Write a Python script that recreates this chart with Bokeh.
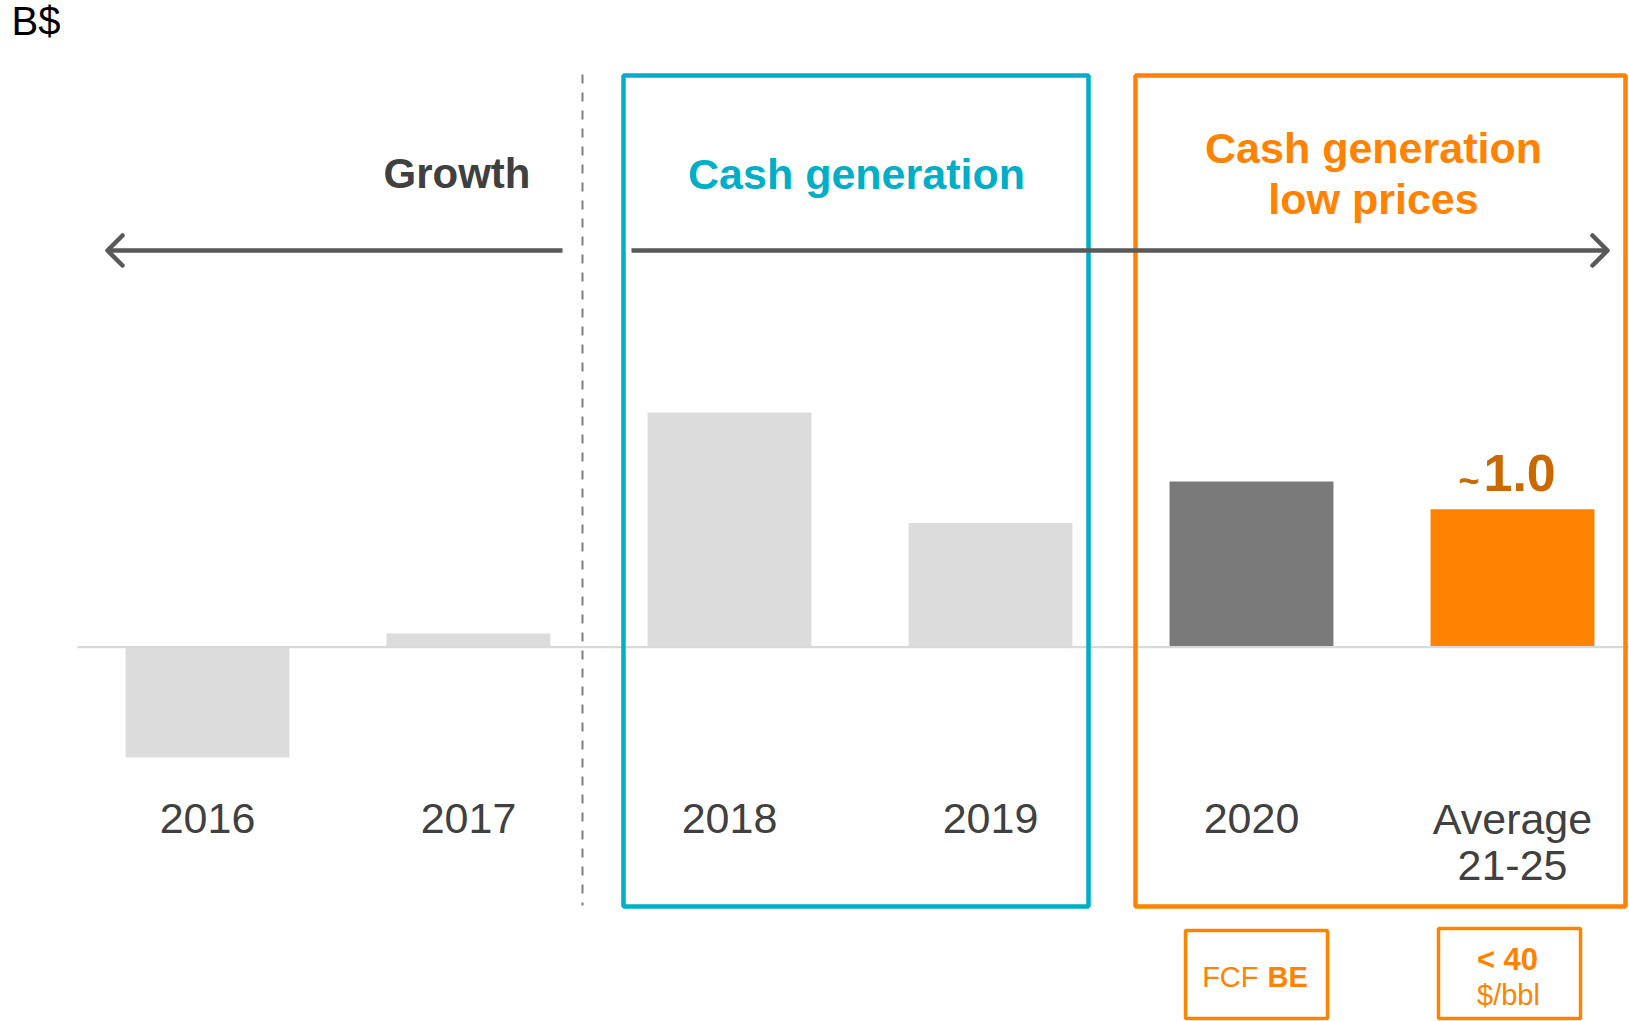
from bokeh.plotting import figure
from bokeh.models import Range1d
from bokeh.embed import file_html
from bokeh.resources import INLINE
from bokeh.core.properties import value

# ---------------- data ----------------
unit_label = "B$"
categories = ["2016", "2017", "2018", "2019", "2020", "Average\n21-25"]
values = [-0.8, 0.1, 1.7, 0.9, 1.2, 1.0]
value_label = "1.0"
value_prefix = "~"
phase_growth = "Growth"
phase_cash = "Cash generation"
phase_low = ["Cash generation", "low prices"]
note_fcf = ["FCF", "BE"]
note_price = ["< 40", "$/bbl"]

# ---------------- styles ----------------
LIGHT = "#DCDCDC"
DARK = "#7A7A7A"
ORANGE = "#FF8300"
DORANGE = "#C96A00"
TEAL = "#00AFC6"
TXT = "#404040"
ARROW = "#595959"
FONT = value("Liberation Sans")
bar_colors = [LIGHT, LIGHT, LIGHT, LIGHT, DARK, ORANGE]

W, H = 1629, 1021
OFF = 0                    # page offset of the figure
PX, PY = 261.0, 138.0      # pixels per category step / per B$
X0, Y0 = 207.0, 646.7      # page position of first category / of zero
BSHIFT = 0.37              # baseline correction (em)


def X(px):
    return (px - X0) / PX


def Y(py):
    return (Y0 - py) / PY


def YT(py, fs):
    """y of a text whose visual baseline should sit at page row py"""
    return Y(py - BSHIFT * fs)


p = figure(width=W, height=H, output_backend="svg", toolbar_location=None,
           x_range=Range1d(X(OFF), X(OFF + W)), y_range=Range1d(Y(OFF + H), Y(OFF)),
           x_axis_location=None, y_axis_location=None, min_border=0)
p.grid.visible = False
p.outline_line_color = None
p.background_fill_color = "white"
p.border_fill_color = "white"

idx = list(range(len(categories)))

# bars
p.vbar(x=idx, top=values, bottom=0, width=0.628, fill_color=bar_colors, line_color=None)
# zero line
p.line([X(77), X(1640)], [0, 0], line_color="#D9D9D9", line_width=2.3)


def txt(x, py, s, fs, color, align="center", bold=False):
    p.text(x=x, y=[YT(py, fs)] * len(x), text=s, text_font=FONT, text_font_size=f"{fs}px",
           text_font_style="bold" if bold else "normal", text_color=color,
           text_align=align, text_baseline="alphabetic")


# category labels (two lines max)
line1 = [c.split("\n")[0] for c in categories]
sec = [(i, c.split("\n")[1]) for i, c in zip(idx, categories) if "\n" in c]
txt(idx, 834, line1, 43, TXT)
txt([s[0] for s in sec], 880.7, [s[1] for s in sec], 43, TXT)

# value label on last bar
txt([X(1479)], 493, [value_prefix], 36, DORANGE, align="right", bold=True)
txt([X(1483)], 492, [value_label], 52, DORANGE, align="left", bold=True)

# dashed separator
p.line([X(582), X(582)], [Y(74), Y(905)], line_color="#7F7F7F", line_width=2, line_dash="9 9")

# phase boxes
p.quad(left=[X(623)], right=[X(1088)], top=[Y(75)], bottom=[Y(906)], fill_alpha=0,
       line_color=TEAL, line_width=4.5)
p.quad(left=[X(1135)], right=[X(1625)], top=[Y(75)], bottom=[Y(906)], fill_alpha=0,
       line_color=ORANGE, line_width=4.5)

# small note boxes
p.quad(left=[X(1185), X(1438)], right=[X(1327), X(1580)], top=[Y(930), Y(928)],
       bottom=[Y(1018), Y(1018)], fill_alpha=0, line_color=ORANGE, line_width=3.5)

# arrows
p.line([X(107), X(562)], [Y(250), Y(250)], line_color=ARROW, line_width=4.5)
p.line([X(631), X(1606)], [Y(250), Y(250)], line_color=ARROW, line_width=4.5)
p.multi_line(xs=[[X(122), X(107), X(122)], [X(1592), X(1607), X(1592)]],
             ys=[[Y(235), Y(250), Y(265)], [Y(235), Y(250), Y(265)]],
             line_color=ARROW, line_width=4.5, line_cap="round", line_join="round")

# texts
txt([X(11)], 35, [unit_label], 40, "black", align="left")
txt([X(530)], 188.5, [phase_growth], 42, TXT, align="right", bold=True)
txt([X(856)], 189, [phase_cash], 43, TEAL, bold=True)
txt([X(1373)], 163.5, [phase_low[0]], 43, ORANGE, bold=True)
txt([X(1373)], 214.5, [phase_low[1]], 43, ORANGE, bold=True)

# note texts
txt([X(1258)], 987, [note_fcf[0]], 29, ORANGE, align="right")
txt([X(1267)], 987, [note_fcf[1]], 29, ORANGE, align="left", bold=True)
txt([X(1507)], 970, [note_price[0]], 31, ORANGE, bold=True)
txt([X(1508)], 1005, [note_price[1]], 29, ORANGE)

open("out.html", "w").write(file_html(p, INLINE))
